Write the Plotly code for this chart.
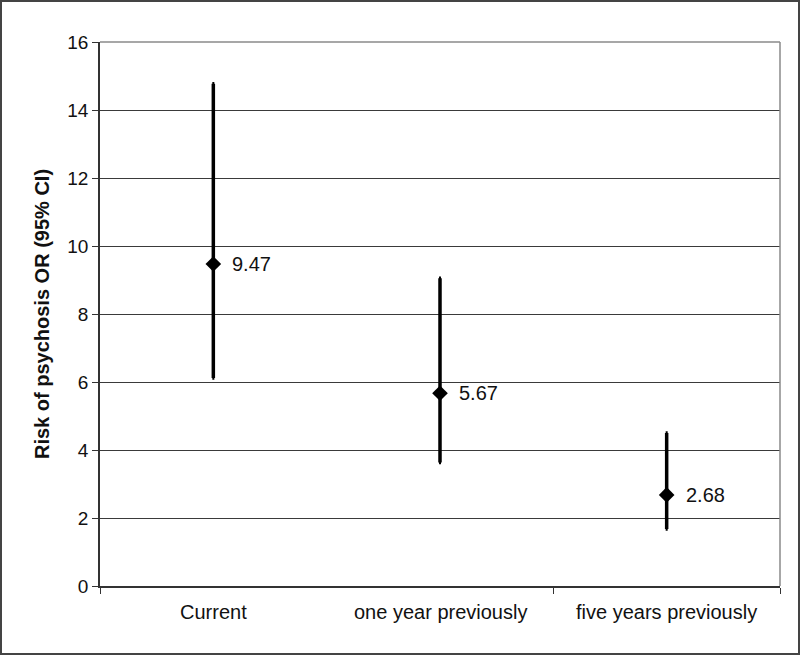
import plotly.graph_objects as go

categories = ["Current", "one year previously", "five years previously"]
odds_ratio = [9.47, 5.67, 2.68]
ci_low = [6.12, 3.63, 1.68]
ci_high = [14.77, 9.05, 4.5]
y_ticks = [0, 2, 4, 6, 8, 10, 12, 14, 16]

x_pos = [i + 0.5 for i in range(len(categories))]

fig = go.Figure()

fig.add_trace(go.Scatter(
    x=x_pos, y=odds_ratio,
    mode="markers",
    marker=dict(symbol="diamond", size=12, color="black"),
    error_y=dict(
        type="data", symmetric=False,
        array=[h - v for h, v in zip(ci_high, odds_ratio)],
        arrayminus=[v - l for v, l in zip(odds_ratio, ci_low)],
        color="black", thickness=3.5, width=1,
    ),
    showlegend=False,
    cliponaxis=False,
))

# value labels right of each diamond
for xp, v in zip(x_pos, odds_ratio):
    fig.add_annotation(x=xp, y=v, xref="x", yref="y", text="%.2f" % v, showarrow=False,
                       xanchor="left", xshift=17, font=dict(size=20, color="#111111"))

# category labels under the axis
for xp, name in zip(x_pos, categories):
    fig.add_annotation(x=xp, y=0, xref="x", yref="y", text=name, showarrow=False,
                       yshift=-26, font=dict(size=20, color="#111111"))

ml, mr, mt, mb = 100, 20, 42, 69
pw, ph = 800 - ml - mr, 655 - mt - mb

# frame round the whole picture
fig.add_shape(type="rect", xref="paper", yref="paper",
              x0=(1 - ml) / pw, x1=(799 - ml) / pw,
              y0=-(mb - 1) / ph, y1=1 + (mt - 1) / ph,
              line=dict(color="#444444", width=2), layer="below")

# gray outline on top and right of the plot area
fig.add_shape(type="line", xref="paper", yref="paper", x0=1, x1=1, y0=0, y1=1,
              line=dict(color="#8a8a8a", width=1.5))
fig.add_shape(type="line", xref="paper", yref="paper", x0=0, x1=1, y0=1, y1=1,
              line=dict(color="#8a8a8a", width=1.5))

fig.update_layout(
    width=800, height=655,
    margin=dict(l=ml, r=mr, t=mt, b=mb),
    paper_bgcolor="white", plot_bgcolor="white",
    font=dict(family="Liberation Sans, Arial, sans-serif", size=20, color="#111111"),
    xaxis=dict(
        range=[0, 3], tickvals=[0, 2, 3], ticktext=["", "", ""],
        ticks="outside", ticklen=6, tickcolor="#333333",
        showline=True, linecolor="#333333", linewidth=1.5,
        showgrid=False, zeroline=False,
    ),
    yaxis=dict(
        range=[0, 16], tickvals=y_ticks,
        ticks="outside", ticklen=6, tickcolor="#333333",
        showline=True, linecolor="#333333", linewidth=1.5,
        showgrid=True, gridcolor="#3a3a3a", gridwidth=1,
        zeroline=False,
        title=dict(text="<b>Risk of psychosis OR (95% CI)</b>", font=dict(size=20), standoff=12),
        tickfont=dict(size=19),
    ),
)

fig.write_html("out.html", config={"displayModeBar": False},
               post_script="document.body.style.margin='0';")
